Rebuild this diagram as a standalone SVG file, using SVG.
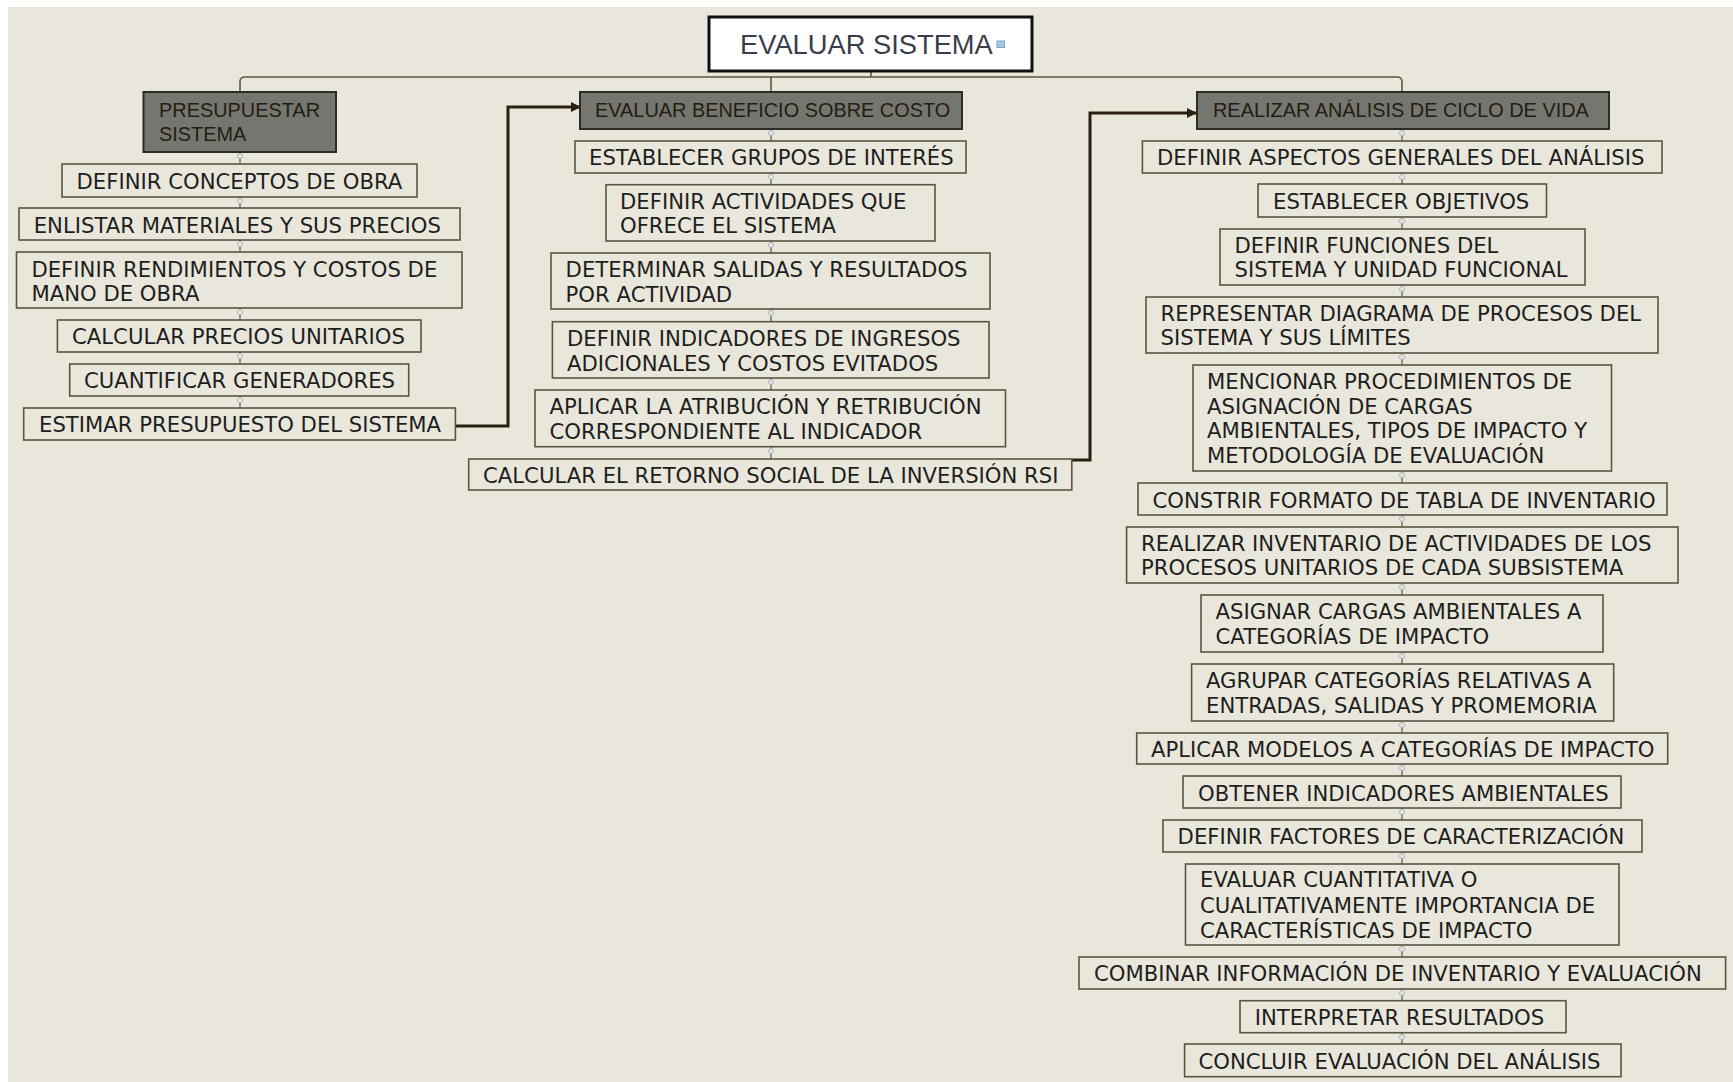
<svg xmlns="http://www.w3.org/2000/svg" width="1733" height="1082" viewBox="0 0 1733 1082">
  <style>
    .bg { fill: #e9e7db; }
    .box { fill: #e9e7db; stroke: #5c5443; stroke-width: 1.6; }
    .head { fill: #767670; stroke: #2c2c24; stroke-width: 2; }
    .root { fill: #ffffff; stroke: #111111; stroke-width: 3; }
    .t { font-family: "DejaVu Sans", Verdana, sans-serif; font-size: 21.2px; fill: #1e1e1e; }
    .ht { font-family: "Liberation Sans", Arial, sans-serif; font-size: 19.9px; fill: #241d12; }
    .rt { font-family: "Liberation Sans", Arial, sans-serif; font-size: 27.3px; fill: #3a3d4a; }
    .tree { fill: none; stroke: #5e5646; stroke-width: 1.6; }
    .spine { fill: none; stroke: #5e5646; stroke-width: 1.2; }
    .knob { fill: #e9e7db; stroke: #a9b4c8; stroke-width: 1; }
    .flow { fill: none; stroke: #2b2010; stroke-width: 3; }
  </style>
  <defs>
    <marker id="tip" markerUnits="userSpaceOnUse" markerWidth="11" markerHeight="11" refX="10" refY="5" orient="auto">
      <path d="M0,0 L10,5 L0,10 z" fill="#2b2010"/>
    </marker>
  </defs>

  <rect x="0" y="0" width="1733" height="1082" fill="#ffffff"/>
  <rect class="bg" x="8" y="7" width="1725" height="1075"/>

  <!-- connectors -->
  <g id="connectors">
    <path class="tree" d="M871,72 V77 M240,92 V82 Q240,77 245,77 H1397 Q1402,77 1402,82 V92 M771,77 V92"/>
    <path class="spine" d="M240,152 V408 M771,129 V459 M1402,129 V1044"/>
    <g>
      <circle class="knob" cx="240" cy="156" r="2.5"/>
      <circle class="knob" cx="240" cy="201" r="2.5"/>
      <circle class="knob" cx="240" cy="244" r="2.5"/>
      <circle class="knob" cx="240" cy="312" r="2.5"/>
      <circle class="knob" cx="240" cy="356" r="2.5"/>
      <circle class="knob" cx="240" cy="400" r="2.5"/>
      <circle class="knob" cx="771" cy="133" r="2.5"/>
      <circle class="knob" cx="771" cy="177" r="2.5"/>
      <circle class="knob" cx="771" cy="245" r="2.5"/>
      <circle class="knob" cx="771" cy="313" r="2.5"/>
      <circle class="knob" cx="771" cy="382" r="2.5"/>
      <circle class="knob" cx="771" cy="451" r="2.5"/>
      <circle class="knob" cx="1402" cy="133" r="2.5"/>
      <circle class="knob" cx="1402" cy="177" r="2.5"/>
      <circle class="knob" cx="1402" cy="221" r="2.5"/>
      <circle class="knob" cx="1402" cy="289" r="2.5"/>
      <circle class="knob" cx="1402" cy="357" r="2.5"/>
      <circle class="knob" cx="1402" cy="475" r="2.5"/>
      <circle class="knob" cx="1402" cy="519" r="2.5"/>
      <circle class="knob" cx="1402" cy="587" r="2.5"/>
      <circle class="knob" cx="1402" cy="656" r="2.5"/>
      <circle class="knob" cx="1402" cy="725" r="2.5"/>
      <circle class="knob" cx="1402" cy="768" r="2.5"/>
      <circle class="knob" cx="1402" cy="812" r="2.5"/>
      <circle class="knob" cx="1402" cy="856" r="2.5"/>
      <circle class="knob" cx="1402" cy="949" r="2.5"/>
      <circle class="knob" cx="1402" cy="993" r="2.5"/>
      <circle class="knob" cx="1402" cy="1037" r="2.5"/>
    </g>
    <path class="flow" d="M455,426 H508 V107 H581" marker-end="url(#tip)"/>
    <path class="flow" d="M1072,460 H1090 V113 H1197" marker-end="url(#tip)"/>
  </g>

  <!-- root -->
  <g id="evaluar-sistema">
    <rect class="root" x="709" y="17" width="323" height="54"/>
    <text class="rt" x="740" y="53.5">EVALUAR SISTEMA</text>
    <rect x="997" y="41" width="7.5" height="6.5" fill="#a9c8e8" stroke="#7aa2cc" stroke-width="1"/>
  </g>

  <!-- left branch -->
  <g id="presupuestar-sistema">
    <rect class="head" x="143.5" y="92" width="192.5" height="60"/>
    <text class="ht" x="159" y="117">PRESUPUESTAR</text>
    <text class="ht" x="159" y="141">SISTEMA</text>
  </g>
  <g id="definir-conceptos">
    <rect class="box" x="62" y="164" width="355" height="33"/>
    <text class="t" x="76.5" y="189">DEFINIR CONCEPTOS DE OBRA</text>
  </g>
  <g id="enlistar-materiales">
    <rect class="box" x="19" y="208" width="441" height="32"/>
    <text class="t" x="33.7" y="233">ENLISTAR MATERIALES Y SUS PRECIOS</text>
  </g>
  <g id="definir-rendimientos">
    <rect class="box" x="16.5" y="252" width="445.5" height="56"/>
    <text class="t" x="31.4" y="277">DEFINIR RENDIMIENTOS Y COSTOS DE</text>
    <text class="t" x="31.4" y="300.5">MANO DE OBRA</text>
  </g>
  <g id="calcular-precios">
    <rect class="box" x="57.4" y="320" width="363.6" height="32"/>
    <text class="t" x="72" y="344">CALCULAR PRECIOS UNITARIOS</text>
  </g>
  <g id="cuantificar-generadores">
    <rect class="box" x="69.7" y="364" width="339" height="32"/>
    <text class="t" x="84" y="388">CUANTIFICAR GENERADORES</text>
  </g>
  <g id="estimar-presupuesto">
    <rect class="box" x="23.7" y="408" width="431.7" height="32"/>
    <text class="t" x="39" y="432">ESTIMAR PRESUPUESTO DEL SISTEMA</text>
  </g>

  <!-- middle branch -->
  <g id="evaluar-beneficio">
    <rect class="head" x="580" y="92" width="382" height="37"/>
    <text class="ht" x="595" y="117">EVALUAR BENEFICIO SOBRE COSTO</text>
  </g>
  <g id="establecer-grupos">
    <rect class="box" x="575" y="141" width="391" height="32"/>
    <text class="t" x="589" y="165">ESTABLECER GRUPOS DE INTERÉS</text>
  </g>
  <g id="definir-actividades">
    <rect class="box" x="606" y="184.7" width="329" height="56.3"/>
    <text class="t" x="620" y="209">DEFINIR ACTIVIDADES QUE</text>
    <text class="t" x="620" y="233">OFRECE EL SISTEMA</text>
  </g>
  <g id="determinar-salidas">
    <rect class="box" x="551" y="253" width="439" height="56"/>
    <text class="t" x="565.6" y="277">DETERMINAR SALIDAS Y RESULTADOS</text>
    <text class="t" x="565.6" y="302">POR ACTIVIDAD</text>
  </g>
  <g id="definir-indicadores">
    <rect class="box" x="552.4" y="321.7" width="436.6" height="56.3"/>
    <text class="t" x="567" y="345.7">DEFINIR INDICADORES DE INGRESOS</text>
    <text class="t" x="567" y="370.7">ADICIONALES Y COSTOS EVITADOS</text>
  </g>
  <g id="aplicar-atribucion">
    <rect class="box" x="535" y="390" width="470.5" height="56.7"/>
    <text class="t" x="549.5" y="414">APLICAR LA ATRIBUCIÓN Y RETRIBUCIÓN</text>
    <text class="t" x="549.5" y="439">CORRESPONDIENTE AL INDICADOR</text>
  </g>
  <g id="calcular-retorno">
    <rect class="box" x="468.7" y="459" width="603.1" height="31"/>
    <text class="t" x="483" y="482.7">CALCULAR EL RETORNO SOCIAL DE LA INVERSIÓN RSI</text>
  </g>

  <!-- right branch -->
  <g id="realizar-acv">
    <rect class="head" x="1197" y="92" width="412" height="37"/>
    <text class="ht" x="1213" y="117">REALIZAR ANÁLISIS DE CICLO DE VIDA</text>
  </g>
  <g id="definir-aspectos">
    <rect class="box" x="1142.4" y="141" width="519.6" height="32"/>
    <text class="t" x="1157" y="165">DEFINIR ASPECTOS GENERALES DEL ANÁLISIS</text>
  </g>
  <g id="establecer-objetivos">
    <rect class="box" x="1258" y="184" width="288.5" height="33"/>
    <text class="t" x="1273" y="209">ESTABLECER OBJETIVOS</text>
  </g>
  <g id="definir-funciones">
    <rect class="box" x="1220" y="229" width="365" height="56"/>
    <text class="t" x="1234.5" y="252.5">DEFINIR FUNCIONES DEL</text>
    <text class="t" x="1234.5" y="277">SISTEMA Y UNIDAD FUNCIONAL</text>
  </g>
  <g id="representar-diagrama">
    <rect class="box" x="1146" y="297" width="512" height="56"/>
    <text class="t" x="1160.6" y="321">REPRESENTAR DIAGRAMA DE PROCESOS DEL</text>
    <text class="t" x="1160.6" y="345">SISTEMA Y SUS LÍMITES</text>
  </g>
  <g id="mencionar-procedimientos">
    <rect class="box" x="1193" y="365" width="418.5" height="106"/>
    <text class="t" x="1207" y="389">MENCIONAR PROCEDIMIENTOS DE</text>
    <text class="t" x="1207" y="413.7">ASIGNACIÓN DE CARGAS</text>
    <text class="t" x="1207" y="438.3">AMBIENTALES, TIPOS DE IMPACTO Y</text>
    <text class="t" x="1207" y="463">METODOLOGÍA DE EVALUACIÓN</text>
  </g>
  <g id="construir-formato">
    <rect class="box" x="1138" y="483" width="529" height="32"/>
    <text class="t" x="1152.5" y="507.7">CONSTRIR FORMATO DE TABLA DE INVENTARIO</text>
  </g>
  <g id="realizar-inventario">
    <rect class="box" x="1126.6" y="527" width="551.4" height="56"/>
    <text class="t" x="1141" y="551">REALIZAR INVENTARIO DE ACTIVIDADES DE LOS</text>
    <text class="t" x="1141" y="575.3">PROCESOS UNITARIOS DE CADA SUBSISTEMA</text>
  </g>
  <g id="asignar-cargas">
    <rect class="box" x="1201" y="595" width="402" height="57"/>
    <text class="t" x="1215.5" y="619">ASIGNAR CARGAS AMBIENTALES A</text>
    <text class="t" x="1215.5" y="644">CATEGORÍAS DE IMPACTO</text>
  </g>
  <g id="agrupar-categorias">
    <rect class="box" x="1191.6" y="664" width="422.1" height="57"/>
    <text class="t" x="1206" y="688">AGRUPAR CATEGORÍAS RELATIVAS A</text>
    <text class="t" x="1206" y="713">ENTRADAS, SALIDAS Y PROMEMORIA</text>
  </g>
  <g id="aplicar-modelos">
    <rect class="box" x="1136.7" y="733" width="531" height="31"/>
    <text class="t" x="1151" y="757">APLICAR MODELOS A CATEGORÍAS DE IMPACTO</text>
  </g>
  <g id="obtener-indicadores">
    <rect class="box" x="1183" y="776" width="438" height="32"/>
    <text class="t" x="1198" y="800.7">OBTENER INDICADORES AMBIENTALES</text>
  </g>
  <g id="definir-factores">
    <rect class="box" x="1163" y="820" width="479" height="32"/>
    <text class="t" x="1177.6" y="844">DEFINIR FACTORES DE CARACTERIZACIÓN</text>
  </g>
  <g id="evaluar-cuantitativa">
    <rect class="box" x="1185.5" y="864" width="433.5" height="81"/>
    <text class="t" x="1200" y="887.3">EVALUAR CUANTITATIVA O</text>
    <text class="t" x="1200" y="912.7">CUALITATIVAMENTE IMPORTANCIA DE</text>
    <text class="t" x="1200" y="937.7">CARACTERÍSTICAS DE IMPACTO</text>
  </g>
  <g id="combinar-informacion">
    <rect class="box" x="1079" y="957" width="646.6" height="32"/>
    <text class="t" x="1094" y="981">COMBINAR INFORMACIÓN DE INVENTARIO Y EVALUACIÓN</text>
  </g>
  <g id="interpretar-resultados">
    <rect class="box" x="1240" y="1000.7" width="326" height="32"/>
    <text class="t" x="1254.7" y="1025">INTERPRETAR RESULTADOS</text>
  </g>
  <g id="concluir-evaluacion">
    <rect class="box" x="1184.6" y="1044" width="436.4" height="32.7"/>
    <text class="t" x="1198.5" y="1069">CONCLUIR EVALUACIÓN DEL ANÁLISIS</text>
  </g>
</svg>
